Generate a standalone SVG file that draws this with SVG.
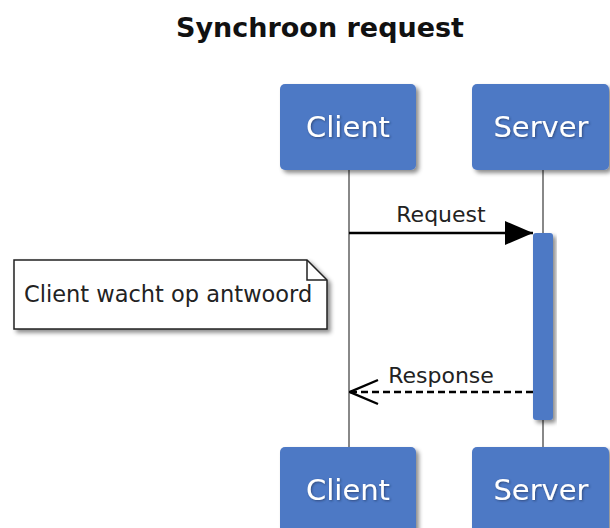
<svg xmlns="http://www.w3.org/2000/svg" width="610" height="528" viewBox="0 0 610 528">
<defs>
<filter id="sh" x="-20%" y="-20%" width="140%" height="140%">
<feDropShadow dx="3" dy="3" stdDeviation="2" flood-color="#000" flood-opacity="0.45"/>
</filter>
<filter id="glow" x="-10%" y="-30%" width="120%" height="160%">
<feDropShadow dx="1" dy="1" stdDeviation="1" flood-color="#1a2a50" flood-opacity="0.6"/>
</filter>
<marker id="solid" viewBox="0 0 28 24" refX="28" refY="12" markerWidth="28" markerHeight="24" markerUnits="userSpaceOnUse" orient="auto">
<path d="M0,0 L28,12 L0,24 Z" fill="#000"/>
</marker>
<marker id="open" viewBox="0 0 30 28" refX="29" refY="14" markerWidth="30" markerHeight="28" markerUnits="userSpaceOnUse" orient="auto">
<path d="M1,2 L29,14 L1,26" fill="none" stroke="#000" stroke-width="2.4"/>
</marker>
</defs>
<style>
.box{fill:#4E79C5;filter:url(#sh)}
.bt{font-family:"DejaVu Sans",Verdana,sans-serif;font-size:29px;fill:#fff;text-anchor:middle;filter:url(#glow)}
.life{stroke:#888;stroke-width:2;fill:none}
.lbl{font-family:"DejaVu Sans",Verdana,sans-serif;font-size:22px;fill:#222;text-anchor:middle}
</style>
<rect width="610" height="528" fill="#fff"/>
<text x="320" y="37" font-family="'DejaVu Sans',Verdana,sans-serif" font-size="27" font-weight="bold" text-anchor="middle" fill="#111">Synchroon request</text>
<g id="lifelines">
<line class="life" x1="349" y1="170" x2="349" y2="447"/>
<line class="life" x1="543" y1="170" x2="543" y2="447"/>
</g>
<g id="client-top"><rect class="box" x="280" y="84" width="136" height="86" rx="5"/><text class="bt" x="348" y="137">Client</text></g>
<g id="server-top"><rect class="box" x="472" y="84" width="137" height="86" rx="5"/><text class="bt" x="541" y="137">Server</text></g>
<g id="client-bottom"><rect class="box" x="280" y="447" width="136" height="86" rx="5"/><text class="bt" x="348" y="500">Client</text></g>
<g id="server-bottom"><rect class="box" x="472" y="447" width="137" height="86" rx="5"/><text class="bt" x="541" y="500">Server</text></g>
<g id="activation"><rect x="533" y="233" width="20" height="187" rx="3" fill="#4E79C5" filter="url(#sh)"/></g>
<g id="note">
<path d="M14,260 H307 L327,280 V329 H14 Z" fill="#fff" stroke="#222" stroke-width="1.5" filter="url(#sh)"/>
<path d="M307,260 V280 H327" fill="none" stroke="#222" stroke-width="1.5"/>
<text x="24" y="302" font-family="'DejaVu Sans',Verdana,sans-serif" font-size="22.5" fill="#222">Client wacht op antwoord</text>
</g>
<g id="connectors">
<line x1="349" y1="233" x2="533" y2="233" stroke="#000" stroke-width="2.4" marker-end="url(#solid)"/>
<text class="lbl" x="441" y="222">Request</text>
<line x1="533" y1="392" x2="350" y2="392" stroke="#000" stroke-width="2.4" stroke-dasharray="7,4" marker-end="url(#open)"/>
<text class="lbl" x="441" y="383">Response</text>
</g>
</svg>
